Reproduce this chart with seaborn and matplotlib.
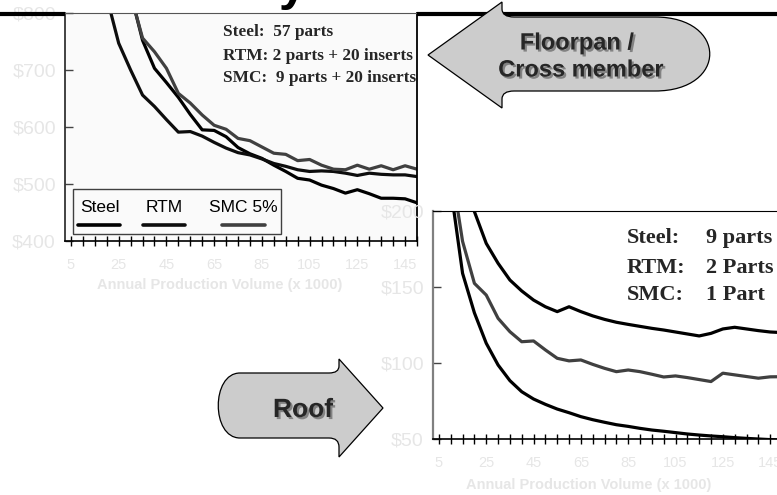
import matplotlib
matplotlib.use("Agg")
import matplotlib.pyplot as plt
import matplotlib.patheffects as pe
from matplotlib.path import Path
from matplotlib.patches import PathPatch, Rectangle
from matplotlib.lines import Line2D
import pandas as pd
import seaborn as sns

# ---------------- data ----------------
volumes = [5, 10, 15, 20, 25, 30, 35, 40, 45, 50, 55, 60, 65, 70, 75,
           80, 85, 90, 95, 100, 105, 110, 115, 120, 125, 130, 135, 140, 145, 150]
tick_labels = ["5", "", "", "", "25", "", "", "", "45", "", "", "", "65", "", "",
               "", "85", "", "", "", "105", "", "", "", "125", "", "", "", "145", ""]

floor_names = ["Steel", "RTM", "SMC 5%"]
floor_steel = [2400, 1500, 1150, 980, 900, 835, 752, 703, 678, 652, 622, 595, 594, 583, 564,
               553, 545, 533, 522, 510, 507, 498, 492, 484, 490, 483, 475, 475, 474, 467]
floor_rtm = [1900, 1200, 950, 828, 747, 700, 656, 636, 613, 591, 592, 584, 573, 563, 555,
             551, 544, 536, 531, 525, 522, 523, 522, 519, 515, 519, 517, 516, 516, 513]
floor_smc = [2200, 1400, 1100, 950, 880, 832, 756, 732, 703, 659, 642, 621, 603, 596, 580,
             576, 565, 554, 552, 541, 543, 533, 526, 525, 533, 526, 532, 525, 532, 526]

roof_names = ["Steel", "SMC", "RTM"]
roof_steel = [380, 265, 218, 199.6, 178.7, 165.6, 154.6, 147.4, 141.4, 137.0, 133.8, 137.0, 133.8, 131.0, 128.7,
              126.8, 125.4, 124.1, 122.8, 121.7, 120.4, 119.1, 117.8, 119.5, 122.4, 123.5, 122.4, 121.3, 120.4, 120.0]
roof_smc = [330, 230, 180, 152.4, 144.7, 129.4, 120.6, 114.0, 114.5, 108.6, 103.1, 101.4, 102.0, 99.1, 96.5,
            94.3, 95.4, 94.3, 92.6, 90.8, 91.5, 90.4, 89.1, 87.8, 93.3, 92.2, 91.1, 90.0, 90.9, 91.0]
roof_rtm = [320, 215, 159, 133, 113, 98.7, 88.4, 81.1, 76.3, 72.8, 69.7, 67.3, 64.7, 62.7, 61.0,
            59.4, 58.3, 57.0, 55.9, 55.1, 54.2, 53.3, 52.6, 52.0, 51.5, 50.9, 50.4, 50.0, 49.6, 49.2]

floor_yticks = [400, 500, 600, 700, 800]
roof_yticks = [50, 100, 150, 200]
xlabel_text = "Annual Production Volume (x 1000)"
floor_notes = ["Steel:  57 parts", "RTM: 2 parts + 20 inserts", "SMC:  9 parts + 20 inserts"]
roof_notes_a = ["Steel:", "RTM:", "SMC:"]
roof_notes_b = ["9 parts", "2 Parts", "1 Part"]

# ---------------- style ----------------
sns.set_style("white")
plt.rcParams["font.family"] = ["Liberation Sans", "DejaVu Sans"]

W, H = 777, 495
def fx(x):
    return x / W
def fy(y):
    return 1 - y / H

fig = plt.figure(figsize=(W / 100, H / 100), dpi=100)
fig.patch.set_facecolor("white")

LABEL_GRAY = "#E6E6E6"

ax1 = fig.add_axes([fx(65), fy(241), (417 - 65) / W, (241 - 13) / H])
ax2 = fig.add_axes([fx(433), fy(439), (782 - 433) / W, (439 - 211) / H])

df_floor = pd.DataFrame({
    "volume": volumes * 3,
    "cost": floor_steel + floor_rtm + floor_smc,
    "material": [floor_names[0]] * 30 + [floor_names[1]] * 30 + [floor_names[2]] * 30,
})
df_roof = pd.DataFrame({
    "volume": volumes * 3,
    "cost": roof_steel + roof_smc + roof_rtm,
    "material": [roof_names[0]] * 30 + [roof_names[1]] * 30 + [roof_names[2]] * 30,
})

floor_pal = {"Steel": "#000000", "RTM": "#0d0d0d", "SMC 5%": "#404040"}
roof_pal = {"Steel": "#000000", "SMC": "#404040", "RTM": "#000000"}

sns.lineplot(data=df_floor, x="volume", y="cost", hue="material", palette=floor_pal,
             linewidth=2.3, legend=False, ax=ax1, errorbar=None, sort=False)
sns.lineplot(data=df_roof, x="volume", y="cost", hue="material", palette=roof_pal,
             linewidth=2.3, legend=False, ax=ax2, errorbar=None, sort=False)

for ax, yt, ylim in [(ax1, floor_yticks, (400, 800)), (ax2, roof_yticks, (50, 200))]:
    ax.set_xlim(2.5, 150)
    ax.set_ylim(*ylim)
    ax.set_xticks(volumes)
    ax.set_xticklabels(tick_labels)
    ax.set_yticks(yt)
    ax.set_yticklabels(["$" + str(v) for v in yt])
    ax.tick_params(axis="x", bottom=True, direction="inout", length=7, width=1, color="black",
                   pad=8.5, labelsize=10.5, labelcolor=LABEL_GRAY)
    ax.tick_params(axis="y", left=True, direction="in", length=6, width=1, color="#444444",
                   pad=6.5, labelsize=14, labelcolor=LABEL_GRAY)
    ax.set_xlabel(xlabel_text, fontsize=10.5, fontweight="bold", color=LABEL_GRAY)
    ax.set_ylabel("")
    ax.xaxis.label.set_va("center")

ax1.xaxis.set_label_coords(0.44, -0.193)
ax2.xaxis.set_label_coords(0.447, -0.202)

ax1.set_facecolor("#FAFAFA")
ax2.set_facecolor("white")
for s, (c, lw) in {"left": ("#222222", 1.2), "right": ("#000000", 1.3),
                   "top": ("#555555", 0.8), "bottom": ("#000000", 1.2)}.items():
    ax1.spines[s].set_visible(True)
    ax1.spines[s].set_color(c)
    ax1.spines[s].set_linewidth(lw)
for s, (c, lw) in {"left": ("#808080", 1.6), "right": ("#000000", 1.0),
                   "top": ("#000000", 0.8), "bottom": ("#000000", 1.2)}.items():
    ax2.spines[s].set_visible(True)
    ax2.spines[s].set_color(c)
    ax2.spines[s].set_linewidth(lw)

# annotations inside charts
serif = ["Liberation Serif", "DejaVu Serif"]
for i, txt in enumerate(floor_notes):
    ax1.text((223 - 65) / 352, (241 - [36.5, 59.5, 82.5][i]) / 228, txt,
             transform=ax1.transAxes, ha="left", va="baseline", fontsize=12.4,
             fontweight="bold", family=serif, clip_on=True)
for i in range(3):
    yb = [243, 273, 300][i]
    fig.text(fx(627), fy(yb), roof_notes_a[i], ha="left", va="baseline", fontsize=16,
             fontweight="bold", family=serif)
    fig.text(fx(706), fy(yb), roof_notes_b[i], ha="left", va="baseline", fontsize=16,
             fontweight="bold", family=serif)

# legend of the floorpan chart (handles below labels)
fig.add_artist(Rectangle((fx(73), fy(234)), (281 - 73) / W, (234 - 189) / H,
                         transform=fig.transFigure, facecolor="#FAFAFA",
                         edgecolor="#404040", linewidth=1.0, zorder=3))
leg_text_x = [80, 146, 209]
leg_line_x = [(78, 120), (143, 185), (222, 265)]
for i, name in enumerate(floor_names):
    fig.text(fx(leg_text_x[i]), fy(207), name, ha="left", va="center", fontsize=12.5,
             color="black", zorder=4)
    x0, x1 = leg_line_x[i]
    fig.add_artist(Line2D([fx(x0), fx(x1)], [fy(225), fy(225)], transform=fig.transFigure,
                          color=floor_pal[name], linewidth=2.6, solid_capstyle="round", zorder=4))

# title band and clipped title
for xa, xb in [(0, 65), (417, 777)]:
    fig.add_artist(Line2D([fx(xa), fx(xb)], [fy(14), fy(14)], transform=fig.transFigure,
                          color="black", linewidth=3.0, solid_capstyle="butt", zorder=5))
fig.text(fx(307), fy(0.5), "Cost Summary", ha="right", va="baseline", fontsize=36,
         fontweight="bold", color="black")

# arrows
def px_path(points, codes):
    return Path([(fx(x), fy(y)) for x, y in points], codes)

M, L, C3, C4, CL = Path.MOVETO, Path.LINETO, Path.CURVE3, Path.CURVE4, Path.CLOSEPOLY
floor_pts = [(428, 55), (502, 2), (502, 9), (502, 17), (514, 17), (655, 17),
             (728, 17), (728, 91), (655, 91), (514, 91), (502, 91), (502, 99),
             (502, 108), (428, 55)]
floor_codes = [M, L, L, C3, C3, L, C4, C4, C4, L, C3, C3, L, CL]
roof_pts = [(383, 408), (339, 457), (339, 447), (339, 438), (329, 438), (240, 438),
            (211, 438), (211, 373), (240, 373), (329, 373), (339, 373), (339, 366),
            (339, 359), (383, 408)]
roof_codes = [M, L, L, C3, C3, L, C4, C4, C4, L, C3, C3, L, CL]
for pts, codes in [(floor_pts, floor_codes), (roof_pts, roof_codes)]:
    fig.add_artist(PathPatch(px_path(pts, codes), transform=fig.transFigure,
                             facecolor="#CCCCCC", edgecolor="black", linewidth=0.9, zorder=6))

shadow = [pe.withSimplePatchShadow(offset=(1.5, -1.5), shadow_rgbFace="#7a7a7a", alpha=0.9)]
fig.text(fx(577), fy(43), "Floorpan /", ha="center", va="center", fontsize=17,
         fontweight="bold", zorder=7, path_effects=shadow)
fig.text(fx(581), fy(70), "Cross member", ha="center", va="center", fontsize=17,
         fontweight="bold", zorder=7, path_effects=shadow)
fig.text(fx(303), fy(410), "Roof", ha="center", va="center", fontsize=19,
         fontweight="bold", zorder=7, path_effects=shadow)

fig.savefig("out.png", dpi=100, facecolor="white")
